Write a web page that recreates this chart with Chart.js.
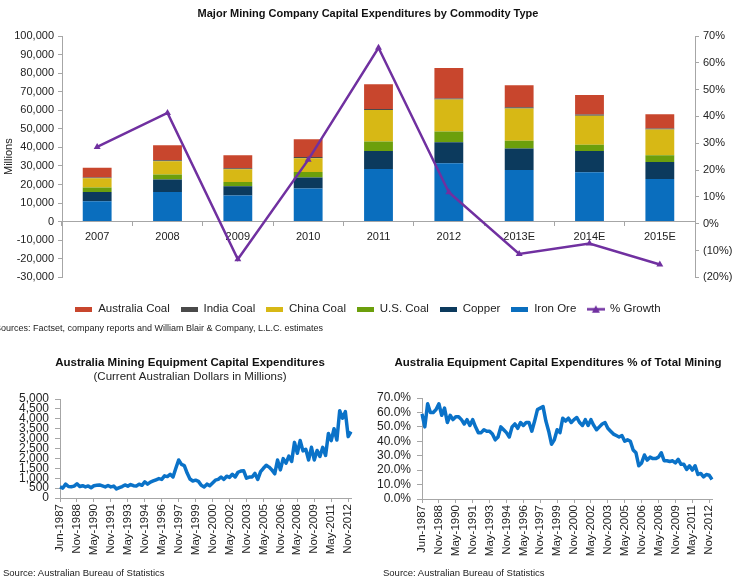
<!DOCTYPE html>
<html><head><meta charset="utf-8">
<script src="https://cdn.jsdelivr.net/npm/chart.js@4/dist/chart.umd.min.js"></script>
<style>
html,body{margin:0;padding:0;background:#fff;width:736px;height:579px;overflow:hidden;position:relative;font-family:"Liberation Sans",Arial,sans-serif;}
canvas{position:absolute;}
#c1{left:0;top:0;width:736px;height:325px;}
#c2{left:5px;top:340px;width:370px;height:228px;}
#c3{left:370px;top:340px;width:376px;height:229px;}
.src{position:absolute;color:#222;white-space:nowrap;line-height:12px;}
</style></head><body>
<canvas id="c1" width="736" height="325"></canvas>
<div class="src" style="left:-5px;top:322px;font-size:9px;">Sources: Factset, company reports and William Blair &amp; Company, L.L.C. estimates</div>
<canvas id="c2" width="370" height="228"></canvas>
<canvas id="c3" width="376" height="229"></canvas>
<div class="src" style="left:3px;top:567px;font-size:9.5px;">Source: Australian Bureau of Statistics</div>
<div class="src" style="left:383px;top:567px;font-size:9.5px;">Source: Australian Bureau of Statistics</div>
<script>
// ---------- Top chart data ----------
const years = ['2007','2008','2009','2010','2011','2012','2013E','2014E','2015E'];
const ironOre = [11000,16000,14100,17800,28400,31400,27800,26600,23000];
const copper = [4900,6700,5000,5900,9600,11400,11600,11400,9100];
const usCoal = [2500,2700,2300,3000,5200,5700,4100,3400,3600];
const chinaCoal = [5000,7100,6800,7500,16900,17300,17500,15700,13900];
const indiaCoal = [400,500,500,600,550,550,550,550,550];
const australiaCoal = [5200,8200,7100,9600,13400,16400,11950,10500,7700];
const growthPct = [28.6,41.3,-13.3,23.8,65.6,11.7,-11.3,-7.4,-15.2];

// ---------- Bottom charts data (quarterly, Jun-1987 onward) ----------
const tickLabels = ['Jun-1987','Nov-1988','May-1990','Nov-1991','May-1993','Nov-1994','May-1996','Nov-1997','May-1999','Nov-2000','May-2002','Nov-2003','May-2005','Nov-2006','May-2008','Nov-2009','May-2011','Nov-2012'];
const equipCapex = [560,500,700,580,570,600,720,580,620,560,
 610,520,620,640,660,610,560,630,560,600,
 460,520,580,660,600,680,620,600,700,640,
 820,700,800,860,920,980,940,1120,1080,1200,
 1060,1500,1920,1700,1640,1260,960,860,900,840,
 640,560,700,620,760,900,940,1060,940,1100,
 1040,1200,1060,1300,1360,1380,1000,1060,1060,1240,
 940,1330,1500,1650,1560,1420,1220,1920,1420,1990,
 1760,2120,1850,2810,2260,2900,2380,2460,1920,2560,
 1920,2400,2100,2560,2150,3260,2900,3500,2930,4410,
 4030,4360,3100,3350];
const equipPctTotal = [59,50,66,60,60,62,66,58,63,53,
 58,55,57,57,55,52,55,51,55,50,
 46,46,48,47,47,45,41,43,50,48,
 46,43,50,52,49,53,51,53,53,47,
 54,62,63,64,54,47,38,41,48,46,
 56,54,56,53,55,56.5,53,51,55,51,
 55,51,48,50,52,53,49,47,45,44,
 43,44,40,41,40,34,32,23,25,30.5,
 27,29,28,28,29,32,26.5,26.5,26,26.5,
 25,27.5,24,24,20.5,23,20,23,17,17.7,
 15.3,17,16.5,13.5];

Chart.defaults.font.family = '"Liberation Sans", Arial, sans-serif';
Chart.defaults.color = '#222';
Chart.defaults.animation = false;

const AX = '#a6a6a6';
const colors = {
  aus:'#C8462D', india:'#4A4A4A', china:'#D7B815', us:'#6C9F0C', copper:'#0C3A5D', iron:'#0A6EBE', growth:'#7030A0'
};

function boxImg(color){const c=document.createElement('canvas');c.width=17;c.height=5;const g=c.getContext('2d');g.fillStyle=color;g.fillRect(0,0,17,5);return c;}
function lineImg(color){const c=document.createElement('canvas');c.width=18;c.height=9;const g=c.getContext('2d');g.strokeStyle=color;g.lineWidth=2.5;g.beginPath();g.moveTo(0,4.5);g.lineTo(18,4.5);g.stroke();g.fillStyle=color;g.beginPath();g.moveTo(9,0.5);g.lineTo(13,8);g.lineTo(5,8);g.closePath();g.fill();return c;}

function bar(label, data, color){
  return {type:'bar', label, data, backgroundColor:color, borderWidth:0, order:1, yAxisID:'y',
          barPercentage:0.41, categoryPercentage:1};
}

new Chart(document.getElementById('c1'), {
  data: {
    labels: years,
    datasets: [
      {type:'line', label:'% Growth', data:growthPct, yAxisID:'y2', order:0,
       borderColor:colors.growth, backgroundColor:colors.growth, borderWidth:2.5,
       pointStyle:'triangle', pointRadius:4, pointBackgroundColor:colors.growth, pointBorderWidth:0, tension:0},
      bar('Iron Ore', ironOre, colors.iron),
      bar('Copper', copper, colors.copper),
      bar('U.S. Coal', usCoal, colors.us),
      bar('China Coal', chinaCoal, colors.china),
      bar('India Coal', indiaCoal, colors.india),
      bar('Australia Coal', australiaCoal, colors.aus)
    ]
  },
  options: {
    responsive:false,
    layout:{padding:0},
    plugins:{
      tooltip:{enabled:false},
      title:{display:true, text:'Major Mining Company Capital Expenditures by Commodity Type',
             font:{size:11, weight:'bold'}, color:'#111', padding:{top:7, bottom:15.8}},
      legend:{position:'bottom', reverse:true,
        title:{display:true, text:' ', font:{size:1}, padding:{top:0, bottom:14}},
        labels:{usePointStyle:true, pointStyleWidth:17, boxHeight:11, padding:11, color:'#222',
          font:{size:11.5},
          generateLabels(chart){
            const items = Chart.defaults.plugins.legend.labels.generateLabels(chart);
            items.forEach(it=>{
              const ds = chart.data.datasets[it.datasetIndex];
              it.pointStyle = ds.type==='line' ? lineImg(ds.borderColor) : boxImg(ds.backgroundColor);
            });
            return items;
          }}}
    },
    scales:{
      x:{type:'category', position:{y:0}, offset:true, stacked:true,
         grid:{display:true, offset:true, drawOnChartArea:false, drawTicks:true, tickLength:4, color:AX},
         border:{display:true, color:AX},
         ticks:{font:{size:11}, padding:5, color:'#222', maxRotation:0}},
      y:{type:'linear', position:'left', stacked:true, min:-30000, max:100000,
         ticks:{stepSize:10000, autoSkip:false, font:{size:11}, padding:4, color:'#222',
                callback:v=>v.toLocaleString('en-US')},
         grid:{drawOnChartArea:false, drawTicks:true, tickLength:4, color:AX},
         border:{display:true, color:AX},
         title:{display:true, text:'Millions', font:{size:11}, color:'#222', padding:{top:2,bottom:0}},
         afterFit(s){ s.width = 62; }},
      y2:{type:'linear', position:'right', min:-20, max:70,
         ticks:{stepSize:10, autoSkip:false, font:{size:11}, padding:4, color:'#222',
                callback:v=> v<0 ? '('+Math.abs(v)+'%)' : v+'%'},
         grid:{drawOnChartArea:false, drawTicks:true, tickLength:4, color:AX},
         border:{display:true, color:AX},
         afterFit(s){ s.width = 41; }}
    }
  }
});

function lineChart(id, values, titleText, subtitleText, yMax, yStep, yFmt, yWidth, titleBottom, rightPad){
  const idx = values.map((_, i) => String(i));
  const plugins = {
    tooltip:{enabled:false}, legend:{display:false},
    title:{display:true, text:titleText, font:{size:11.5, weight:'bold'}, color:'#111',
           padding:{top:15.8, bottom: subtitleText ? 0 : titleBottom}},
  };
  if (subtitleText) {
    plugins.subtitle = {display:true, text:subtitleText, font:{size:11.5}, color:'#222', padding:{top:0, bottom:titleBottom}};
  }
  return new Chart(document.getElementById(id), {
    type:'line',
    data:{labels:idx, datasets:[{data:values, borderColor:'#0A72C8', backgroundColor:'#0A72C8',
          borderWidth:3.5, pointRadius:0, tension:0, borderJoinStyle:'round'}]},
    options:{
      responsive:false,
      layout:{padding:0},
      plugins,
      scales:{
        x:{type:'category', offset:false,
           afterBuildTicks(s){ s.ticks = s.ticks.filter(t => t.value % 6 === 0); },
           ticks:{autoSkip:false, maxRotation:90, minRotation:90, font:{size:11.5}, padding:2, color:'#222',
                  callback:(v, i) => tickLabels[i]},
           grid:{drawOnChartArea:false, drawTicks:true, tickLength:4, color:AX},
           border:{display:true, color:AX},
           afterFit(s){ s.height = 70; }},
        y:{type:'linear', position:'left', min:0, max:yMax,
           ticks:{stepSize:yStep, autoSkip:false, font:{size:12}, padding:6, color:'#222', callback:yFmt},
           grid:{drawOnChartArea:false, drawTicks:true, tickLength:5, color:AX},
           border:{display:true, color:AX},
           afterFit(s){ s.width = yWidth; }},
        pad:{type:'linear', position:'right', display:true,
           ticks:{display:false}, grid:{display:false}, border:{display:false},
           afterFit(s){ s.width = rightPad; }}
      }
    }
  });
}

lineChart('c2', equipCapex, 'Australia Mining Equipment Capital Expenditures',
  '(Current Australian Dollars in Millions)', 5000, 500, v => v.toLocaleString('en-US'), 55, 15.6, 24);
lineChart('c3', equipPctTotal, 'Australia Equipment Capital Expenditures % of Total Mining',
  null, 70, 10, v => v.toFixed(1) + '%', 52, 28.4, 34);
</script>
</body></html>
